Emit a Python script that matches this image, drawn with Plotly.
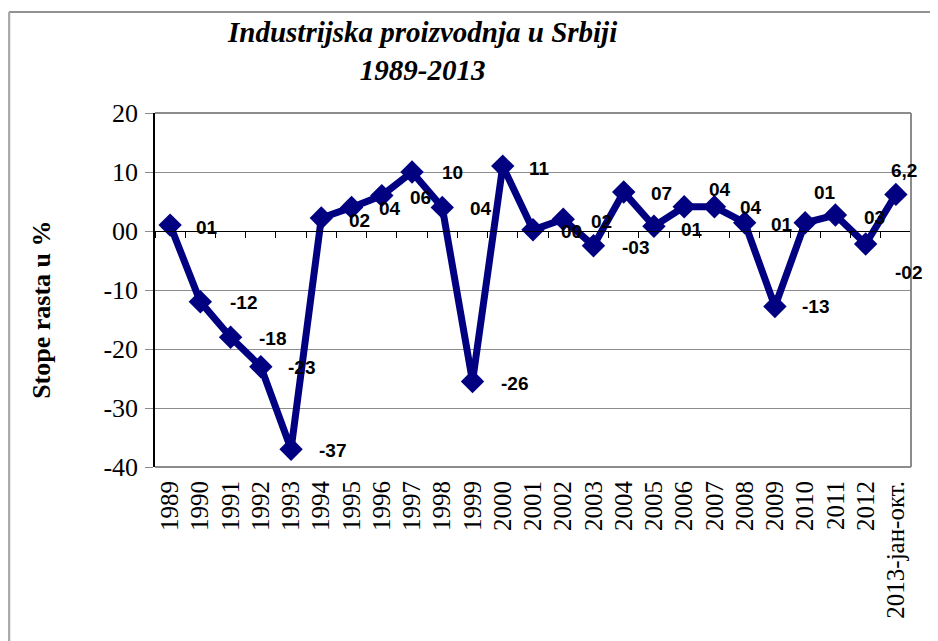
import plotly.graph_objects as go

# ---- data ----
categories = ["1989", "1990", "1991", "1992", "1993", "1994", "1995", "1996", "1997",
              "1998", "1999", "2000", "2001", "2002", "2003", "2004", "2005", "2006",
              "2007", "2008", "2009", "2010", "2011", "2012", "2013-јан-окт."]
values = [1.0, -12.0, -18.0, -23.0, -37.0, 2.2, 4.0, 6.0, 10.0, 4.0, -25.5, 11.0, 0.2,
          2.0, -2.5, 6.6, 0.8, 4.1, 4.1, 1.4, -12.8, 1.4, 2.7, -2.2, 6.2]
labels = ["01", "-12", "-18", "-23", "-37", "02", "04", "06", "10", "04", "-26", "11", "00",
          "02", "-03", "07", "01", "04", "04", "01", "-13", "01", "03", "-02", "6,2"]
ytick_vals = [-40, -30, -20, -10, 0, 10, 20]
ytick_text = ["-40", "-30", "-20", "-10", "00", "10", "20"]

# label offsets in pixels (styling)
lab_dx = [37, 43, 42, 41, 41, 38, 38, 39, 40, 39, 42, 37, 38, 38, 42, 38, 38, 36, 37, 37, 41, 20, 39, 43, 8]
lab_dy = [-2, -1, -1, -1, -1, -2, -1, -2, 0, -1, -2, -2, -2, -2, -2, -1, -3, 17, -1, -2, 0, 30, -2, -29, 24]

NAVY = "#000080"
SERIF = "Liberation Serif, Times New Roman, serif"
SANS = "Liberation Sans, Arial, sans-serif"

fig = go.Figure()
fig.add_trace(go.Scatter(
    x=categories, y=values, mode="lines+markers",
    line=dict(color=NAVY, width=7),
    marker=dict(symbol="diamond", size=18, color=NAVY),
    showlegend=False, hoverinfo="x+y",
))
# invisible trace to make the zero-crossing axis render
fig.add_trace(go.Scatter(x=categories, y=[0] * len(categories), xaxis="x2",
                         mode="markers", marker=dict(opacity=0), showlegend=False,
                         hoverinfo="skip"))

for i, (v, t, dx, dy) in enumerate(zip(values, labels, lab_dx, lab_dy)):
    fig.add_annotation(x=i, y=v, text="<b>%s</b>" % t, showarrow=False,
                       xshift=dx, yshift=dy,
                       font=dict(family=SANS, size=19, color="black"))

fig.add_annotation(xref="paper", yref="paper", x=0.353, y=1.174,
                   text="<b><i>Industrijska proizvodnja u Srbiji<br>1989-2013</i></b>",
                   showarrow=False, font=dict(family=SERIF, size=29, color="black"),
                   align="center", xanchor="center", yanchor="middle")
fig.add_annotation(xref="paper", yref="paper", x=-0.151, y=0.4435,
                   text="<b>Stope rasta u %</b>", textangle=-90, showarrow=False,
                   xanchor="center", yanchor="middle",
                   font=dict(family=SERIF, size=26, color="black"))

# plot-area border (gray) and outer frame
fig.add_shape(type="line", xref="paper", yref="paper", x0=0, x1=1, y0=1, y1=1,
              line=dict(color="#8c8c8c", width=2))
fig.add_shape(type="line", xref="paper", yref="paper", x0=1, x1=1, y0=0, y1=1,
              line=dict(color="#8c8c8c", width=2))
fig.add_shape(type="line", xref="paper", yref="paper", x0=0, x1=1, y0=0, y1=0,
              line=dict(color="#8c8c8c", width=2))
fig.add_shape(type="line", xref="paper", yref="paper", x0=-0.1931, x1=1.2, y0=1.2853, y1=1.2853,
              line=dict(color="#6e6e6e", width=1.5))
fig.add_shape(type="line", xref="paper", yref="paper", x0=-0.1931, x1=-0.1931, y0=-0.6, y1=1.2853,
              line=dict(color="#aaaaaa", width=2.5))

# page body has an 8px margin, so margins are reduced by 8 on the left/top
fig.update_layout(
    width=938, height=641,
    margin=dict(l=147, r=35, t=105, b=182),
    paper_bgcolor="white", plot_bgcolor="white",
    xaxis=dict(type="category", range=[-0.5, len(categories) - 0.5],
               tickmode="array", tickvals=list(range(len(categories))), ticktext=categories,
               showgrid=False, showline=False, zeroline=False,
               tickangle=-90, ticks="", ticklabelstandoff=8,
               tickfont=dict(family=SERIF, size=25, color="black")),
    xaxis2=dict(type="category", overlaying="x", matches="x", anchor="free", position=2 / 3,
                side="bottom", showline=True, linecolor="black", linewidth=1,
                ticks="outside", tickson="boundaries", ticklen=6, tickcolor="black",
                showticklabels=False, showgrid=False, zeroline=False),
    yaxis=dict(range=[-40, 20], tickvals=ytick_vals, ticktext=ytick_text,
               showgrid=True, gridcolor="#8c8c8c", gridwidth=1, zeroline=False,
               showline=True, linecolor="black", linewidth=1.5,
               ticks="outside", ticklen=8, tickcolor="#8c8c8c",
               ticklabelstandoff=2,
               tickfont=dict(family=SERIF, size=26, color="black")),
)

fig.write_html("out.html")
